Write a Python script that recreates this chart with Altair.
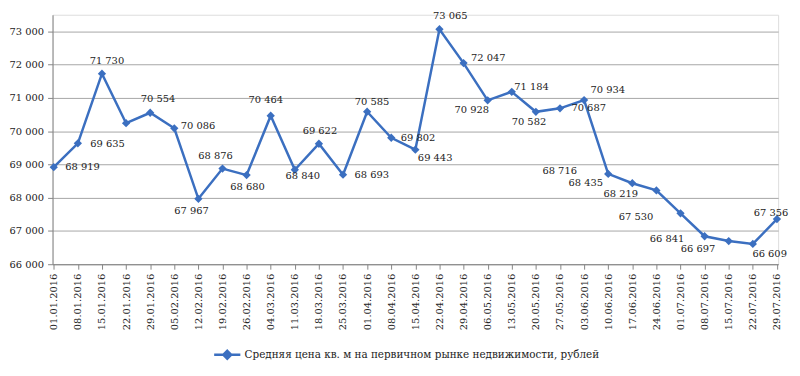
import altair as alt
import pandas as pd

dates = ["01.01.2016", "08.01.2016", "15.01.2016", "22.01.2016", "29.01.2016", "05.02.2016",
         "12.02.2016", "19.02.2016", "26.02.2016", "04.03.2016", "11.03.2016", "18.03.2016",
         "25.03.2016", "01.04.2016", "08.04.2016", "15.04.2016", "22.04.2016", "29.04.2016",
         "06.05.2016", "13.05.2016", "20.05.2016", "27.05.2016", "03.06.2016", "10.06.2016",
         "17.06.2016", "24.06.2016", "01.07.2016", "08.07.2016", "15.07.2016", "22.07.2016",
         "29.07.2016"]
prices = [68919, 69635, 71730, 70240, 70554, 70086, 67967, 68876, 68680, 70464, 68840, 69622,
          68693, 70585, 69802, 69443, 73065, 72047, 70928, 71184, 70582, 70687, 70934, 68716,
          68435, 68219, 67530, 66841, 66697, 66609, 67356]
show_label = [True, True, True, False] + [True] * 27
y_ticks = [66000, 67000, 68000, 69000, 70000, 71000, 72000, 73000]
series_name = "Средняя цена кв. м на первичном рынке недвижимости, рублей"

# label offsets (pixels) relative to each point, as placed in the original
label_dx = [29, 30, 5, 0, 8, 24, -7, -7, 1, -5, 8, 1, 29, 5, 27, 20, 11, 25, -16, 20, -7, 29, 24,
            -49, -47, -36, -45, -38, -31, 17, -6]
label_dy = [0, 1, -13, 0, -14, -2, 12, -13, 12, -16, 6, -13, 0, -10, 0, 8, -13, -5, 10, -5, 10, 0,
            -10, -3, 0, 4, 4, 3, 8, 10, -6]

df = pd.DataFrame({
    "date": dates,
    "price": prices,
    "series": [series_name] * len(dates),
    "lbl": [f"{p // 1000} {p % 1000:03d}" if s else "" for p, s in zip(prices, show_label)],
})

BLUE = "#3b6fc0"
FONT = "DejaVu Serif"
FS = 10

x = alt.X("date:N", sort=dates, title=None,
          scale=alt.Scale(type="point", padding=0.05),
          axis=alt.Axis(labelAngle=-90, labelFont=FONT, labelFontSize=FS, labelColor="#222222",
                        labelPadding=4, tickSize=5, tickColor="#868686", domainColor="#868686",
                        grid=False, labelBaseline="middle", labelAlign="right",
                        labelOverlap=False))
y = alt.Y("price:Q", title=None,
          scale=alt.Scale(domain=[66000, 73500], nice=False, zero=False),
          axis=alt.Axis(values=y_ticks, labelFont=FONT, labelFontSize=FS, labelColor="#222222",
                        labelExpr="replace(format(datum.value, ','), ',', ' ')",
                        tickSize=5, tickColor="#868686", domainColor="#868686",
                        gridColor="#a6a6a6", gridWidth=1, labelPadding=4,
                        labelOverlap=False))

legend = alt.Legend(title=None, orient="none", legendX=162, legendY=329,
                    labelFont=FONT, labelFontSize=10.5, labelColor="#222222", labelLimit=0,
                    symbolType="M-1,0L1,0M0,-0.3L0.3,0L0,0.3L-0.3,0Z",
                    symbolSize=700, symbolStrokeWidth=2.5, symbolStrokeColor=BLUE,
                    symbolFillColor=BLUE, labelOffset=3)

color = alt.Color("series:N", scale=alt.Scale(range=[BLUE]), legend=legend)

base = alt.Chart(df)
line = base.mark_line(strokeWidth=2.5).encode(x=x, y=y, color=color)
pts = base.mark_point(shape="diamond", filled=True, size=70, opacity=1).encode(
    x=x, y=y, color=alt.Color("series:N", scale=alt.Scale(range=[BLUE]), legend=None))

labels = []
for i in range(len(dates)):
    if not show_label[i]:
        continue
    labels.append(
        alt.Chart(df.iloc[[i]]).mark_text(font=FONT, fontSize=FS, color="#222222",
                                          dx=label_dx[i], dy=label_dy[i])
        .encode(x=x, y=y, text="lbl:N")
    )

chart = alt.layer(line, pts, *labels).properties(
    width=733, height=252,
    autosize=alt.AutoSizeParams(type="none"),
    padding={"left": 45, "top": 5, "right": 14, "bottom": 103},
).configure_view(stroke=None).configure(background="white")

chart.save("out.html", embed_options={"renderer": "svg", "actions": False})
